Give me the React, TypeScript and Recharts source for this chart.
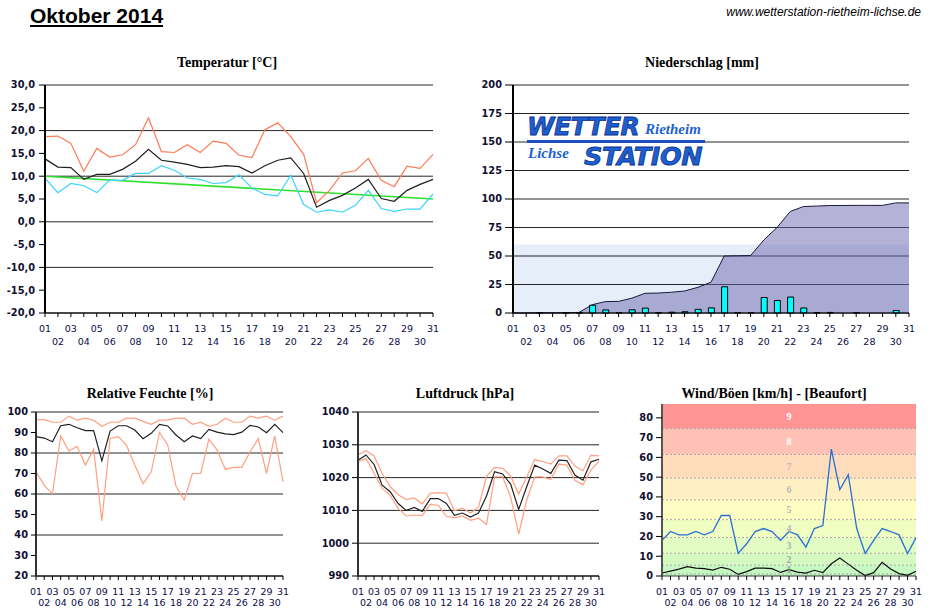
import React from 'react';
import {
  ComposedChart,
  LineChart,
  Line,
  Area,
  Bar,
  XAxis,
  YAxis,
  CartesianGrid,
  ReferenceArea,
  ReferenceLine,
} from 'recharts';

// ---------- data ----------
const days = [1, 2, 3, 4, 5, 6, 7, 8, 9, 10, 11, 12, 13, 14, 15, 16, 17, 18, 19, 20, 21, 22, 23, 24, 25, 26, 27, 28, 29, 30, 31];

const tempMax = [18.7, 18.8, 17.2, 11.1, 16.1, 14.2, 14.7, 16.9, 22.8, 15.4, 15.2, 16.9, 15.2, 17.7, 17.2, 14.6, 14.1, 20.2, 21.7, 18.7, 14.8, 4.2, 6.9, 10.7, 11.2, 13.9, 9.1, 7.7, 12.2, 11.7, 14.8];
const tempMean = [13.8, 12.0, 11.9, 9.3, 10.4, 10.4, 11.5, 13.3, 15.9, 13.5, 13.1, 12.6, 11.9, 12.0, 12.3, 12.1, 10.7, 12.3, 13.5, 14.0, 10.6, 3.2, 4.7, 5.8, 7.4, 9.3, 5.1, 4.5, 6.9, 8.2, 9.3];
const tempMin = [9.6, 6.4, 8.4, 7.9, 6.4, 9.1, 9.1, 10.6, 10.6, 12.3, 11.3, 9.6, 9.3, 8.4, 8.6, 10.3, 7.4, 6.0, 5.7, 10.2, 3.8, 2.1, 2.6, 2.1, 3.6, 6.9, 2.9, 2.3, 2.8, 2.8, 6.1];
const tempTrend: (number | null)[] = [10.0, null, null, null, null, null, null, null, null, null, null, null, null, null, null, null, null, null, null, null, null, null, null, null, null, null, null, null, null, null, 5.0];
const tempTicks = [-20, -15, -10, -5, 0, 5, 10, 15, 20, 25, 30];

const rainDaily = [0, 0, 0.2, 0, 0.1, 0.2, 6.8, 2.7, 0.2, 2.8, 4.3, 0.2, 0.7, 1.1, 3.2, 4.5, 23.0, 0.2, 0.2, 13.6, 11.0, 14.0, 4.4, 0.4, 0.5, 0, 0.1, 0, 0, 2.2, 0];
const rainSum = [0, 0, 0.2, 0.2, 0.3, 0.5, 7.3, 10.0, 10.2, 13.0, 17.3, 17.5, 18.2, 19.3, 22.5, 27.0, 50.0, 50.2, 50.4, 64.0, 75.0, 89.0, 93.4, 93.8, 94.3, 94.3, 94.4, 94.4, 94.4, 96.6, 96.6];
const rainTicks = [0, 25, 50, 75, 100, 125, 150, 175, 200];

const humMax = [96.3, 96.3, 95, 95, 98, 96, 97, 96, 93, 95, 95, 97, 97, 95.4, 94, 96, 96, 97, 97, 94, 95, 93, 94, 97, 95, 95, 98, 97, 98, 96, 98];
const humMean = [88, 87.3, 85.5, 93.3, 94, 92.3, 90.9, 90.9, 76.2, 90.7, 93.3, 93.3, 91.2, 87, 89.6, 94, 93.2, 88.8, 85.5, 88.3, 87, 91.5, 90.2, 89.3, 89, 90.2, 93.5, 92.7, 89.9, 94, 89.9];
const humMin = [70.8, 64.2, 60.1, 88.3, 81, 83.2, 74.1, 81.9, 46.9, 87.1, 88, 83.7, 74.1, 65, 70.8, 90, 83.9, 63.8, 57, 70, 70, 86.8, 81.4, 72.1, 73, 73, 80.6, 87, 70, 88.3, 66];
const humTicks = [20, 30, 40, 50, 60, 70, 80, 90, 100];

const presMax = [1026.9, 1028.2, 1026.6, 1021.3, 1017.2, 1014.8, 1013.3, 1013.8, 1012.0, 1015.2, 1015.4, 1015.2, 1009.9, 1010.7, 1009.2, 1011.0, 1020.4, 1023.1, 1022.8, 1020.5, 1015.0, 1020.2, 1025.5, 1024.9, 1024.1, 1026.6, 1026.6, 1023.5, 1022.1, 1026.8, 1026.6];
const presMean = [1025.3, 1026.9, 1024.0, 1017.7, 1015.7, 1012.1, 1010.0, 1010.9, 1009.7, 1013.6, 1013.6, 1012.1, 1008.5, 1009.2, 1008.0, 1009.2, 1014.4, 1021.8, 1021.1, 1018.0, 1010.3, 1017.2, 1023.8, 1022.6, 1021.3, 1025.3, 1025.2, 1020.8, 1019.2, 1024.8, 1025.6];
const presMin = [1024.9, 1025.8, 1021.3, 1016.7, 1014.6, 1010.6, 1008.3, 1008.6, 1008.4, 1011.9, 1011.5, 1008.2, 1007.7, 1008.3, 1007.0, 1007.6, 1005.7, 1020.2, 1020.2, 1014.1, 1002.8, 1013.1, 1020.2, 1020.2, 1019.4, 1024.1, 1023.8, 1019.2, 1017.8, 1022.3, 1025.1];
const presTicks = [990, 1000, 1010, 1020, 1030, 1040];

const windGust = [18, 22.5, 20.8, 20.8, 22.5, 20.8, 22.5, 30.6, 30.6, 11.4, 16.3, 22.5, 24, 22.5, 18, 22.5, 20.8, 14.6, 24, 25.5, 64.2, 43.7, 51.3, 24, 11.4, 18, 24, 22.5, 20.8, 11.4, 19.3];
const windMean = [1.5, 2.5, 3.5, 4.7, 4.0, 3.7, 3.0, 4.4, 3.4, 0.8, 2.2, 4.0, 4.0, 3.7, 1.8, 3.2, 2.0, 1.5, 2.9, 1.7, 6.2, 9.1, 6.0, 2.9, 0.2, 1.7, 6.9, 3.5, 1.2, 0.3, 2.4];
const windTicks = [0, 10, 20, 30, 40, 50, 60, 70, 80];

const beaufortLabels = ['1', '2', '3', '4', '5', '6', '7', '8', '9'];
const beaufortLow = [1, 5.5, 11.5, 19.5, 28.5, 38.5, 49.5, 61.5, 74.5];
const beaufortHigh = [5.5, 11.5, 19.5, 28.5, 38.5, 49.5, 61.5, 74.5, 87];
const beaufortFill = ['#c6f8c2', '#d4fac2', '#e2fcc2', '#f0fec2', '#fffec2', '#fff0c4', '#ffdcbc', '#ffc2b4', '#ff9494'];
const beaufortText = ['#9a9a9a', '#a8a8a8', '#b0b0b0', '#b8b8b8', '#b8b8b8', '#b8b8b8', '#c0c0c0', '#ffffff', '#ffffff'];

// ---------- tables ----------
const tempData = days.map((d, i) => ({ day: d, max: tempMax[i], mean: tempMean[i], min: tempMin[i], trend: tempTrend[i] }));
const rainData = days.map((d, i) => ({ day: d, daily: rainDaily[i], sum: rainSum[i] }));
const humData = days.map((d, i) => ({ day: d, max: humMax[i], mean: humMean[i], min: humMin[i] }));
const presData = days.map((d, i) => ({ day: d, max: presMax[i], mean: presMean[i], min: presMin[i] }));
const windData = days.map((d, i) => ({ day: d, gust: windGust[i], mean: windMean[i] }));

const LABEL_FONT = '"DejaVu Sans", Verdana, sans-serif';
const TITLE_FONT = '"Liberation Serif", "Times New Roman", serif';

const makeDayTick = (first: number, gap: number) => (props: any) => {
  const { x, y, payload } = props;
  const d = Number(payload.value);
  const odd = d % 2 === 1;
  return (
    <text
      x={x}
      y={y + (odd ? first : first + gap)}
      textAnchor="middle"
      fontSize={9.5}
      fontFamily={LABEL_FONT}
      fill="#0c0c48"
    >
      {String(d).padStart(2, '0')}
    </text>
  );
};

const yTickStyle = { fontSize: 9.8, fontFamily: LABEL_FONT, fontWeight: 'bold', fill: '#101030' } as any;

const Title = ({ cx, top, text }: { cx: number; top: number; text: string }) => (
  <div
    style={{
      position: 'absolute',
      left: cx - 160,
      top,
      width: 320,
      textAlign: 'center',
      fontFamily: TITLE_FONT,
      fontWeight: 'bold',
      fontSize: 14,
      lineHeight: '16px',
      color: '#000',
      whiteSpace: 'nowrap',
    }}
  >
    {text}
  </div>
);

const xAxisProps = (first: number, gap: number) => ({
  dataKey: 'day',
  type: 'number' as const,
  domain: [1, 31],
  ticks: days,
  interval: 0 as const,
  tickSize: 4,
  tickMargin: 0,
  tick: makeDayTick(first, gap),
  axisLine: { stroke: '#000', strokeWidth: 1 },
  tickLine: { stroke: '#000' },
  allowDecimals: false,
});

const logoBig = {
  position: 'absolute' as const,
  fontFamily: LABEL_FONT,
  fontWeight: 'bold' as const,
  fontStyle: 'italic' as const,
  color: '#1d5fcf',
  WebkitTextStroke: '0.8px #0b2f8a',
  whiteSpace: 'nowrap' as const,
};
const logoSmall = {
  position: 'absolute' as const,
  fontFamily: TITLE_FONT,
  fontWeight: 'bold' as const,
  fontStyle: 'italic' as const,
  color: '#1d5fcf',
  whiteSpace: 'nowrap' as const,
};

export default function App() {
  return (
    <div style={{ position: 'absolute', left: 0, top: 0, width: 930, height: 613, background: '#fff', overflow: 'hidden' }}>
      {/* header */}
      <div
        style={{
          position: 'absolute',
          left: 30,
          top: 4,
          fontFamily: '"Liberation Sans", Arial, sans-serif',
          fontWeight: 'bold',
          fontSize: 21,
          lineHeight: '24px',
          textDecoration: 'underline',
          color: '#000',
        }}
      >
        Oktober 2014
      </div>
      <div
        style={{
          position: 'absolute',
          right: 9,
          top: 5,
          fontFamily: '"Liberation Sans", Arial, sans-serif',
          fontStyle: 'italic',
          fontSize: 12,
          lineHeight: '14px',
          color: '#000',
        }}
      >
        www.wetterstation-rietheim-lichse.de
      </div>

      {/* Temperatur */}
      <Title cx={227} top={55} text="Temperatur [°C]" />
      <div style={{ position: 'absolute', left: 0, top: 70 }}>
        <LineChart width={440} height={280} data={tempData} margin={{ top: 15, right: 7, bottom: 0, left: 5 }}>
          <CartesianGrid vertical={false} stroke="#000" strokeOpacity={0.85} horizontalValues={tempTicks} />
          <XAxis {...xAxisProps(14.5, 13)} height={37} />
          <YAxis
            domain={[-20, 30]}
            ticks={tempTicks}
            width={40}
            tickSize={6}
            tickMargin={4}
            tick={yTickStyle}
            tickFormatter={(v: number) => v.toFixed(1).replace('.', ',')}
            axisLine={{ stroke: '#000', strokeWidth: 2 }}
            tickLine={{ stroke: '#000' }}
          />
          <Line dataKey="trend" stroke="#2ee02e" strokeWidth={1.6} dot={false} connectNulls isAnimationActive={false} />
          <Line dataKey="min" stroke="#38d4ff" strokeWidth={1.2} dot={false} isAnimationActive={false} />
          <Line dataKey="max" stroke="#ff7a55" strokeWidth={1.2} dot={false} isAnimationActive={false} />
          <Line dataKey="mean" stroke="#202020" strokeWidth={1.2} dot={false} isAnimationActive={false} />
        </LineChart>
      </div>

      {/* Niederschlag */}
      <Title cx={702} top={55} text="Niederschlag [mm]" />
      <div style={{ position: 'absolute', left: 460, top: 70 }}>
        <ComposedChart width={470} height={280} data={rainData} margin={{ top: 15, right: 21, bottom: 0, left: 5 }}>
          <ReferenceArea x1={1} x2={31} y1={0} y2={60} fill="#e6eef9" fillOpacity={1} stroke="none" zIndex={-60} />
          <CartesianGrid vertical={false} stroke="#000" strokeOpacity={0.85} horizontalValues={rainTicks} zIndex={-40} />
          <XAxis {...xAxisProps(14.5, 13)} height={37} />
          <YAxis
            domain={[0, 200]}
            ticks={rainTicks}
            width={48}
            tickSize={8}
            tickMargin={3}
            tick={yTickStyle}
            axisLine={{ stroke: '#000', strokeWidth: 2 }}
            tickLine={{ stroke: '#000' }}
          />
          <Area dataKey="sum" type="linear" stroke="#1a1a3a" strokeWidth={1} fill="#6a66b0" fillOpacity={0.5} isAnimationActive={false} />
          <Bar dataKey="daily" barSize={6} fill="#00ffff" stroke="#000" strokeWidth={1} isAnimationActive={false} />
        </ComposedChart>
      </div>
      {/* logo */}
      <div style={{ ...logoBig, left: 527, top: 114, fontSize: 25, lineHeight: '25px', letterSpacing: '-0.6px' }}>WETTER</div>
      <div style={{ ...logoSmall, left: 645, top: 122, fontSize: 15, lineHeight: '15px' }}>Rietheim</div>
      <div style={{ position: 'absolute', left: 527, top: 140, width: 178, height: 2.5, background: '#1a4fbf' }} />
      <div style={{ ...logoSmall, left: 528, top: 146, fontSize: 15, lineHeight: '15px' }}>Lichse</div>
      <div style={{ ...logoBig, left: 584, top: 143, fontSize: 25.5, lineHeight: '26px', letterSpacing: '-0.4px' }}>STATION</div>

      {/* Relative Feuchte */}
      <Title cx={150} top={386} text="Relative Feuchte [%]" />
      <div style={{ position: 'absolute', left: 0, top: 400 }}>
        <LineChart width={300} height={213} data={humData} margin={{ top: 12, right: 17, bottom: 0, left: 5 }}>
          <CartesianGrid vertical={false} stroke="#000" strokeOpacity={0.85} horizontalValues={humTicks} />
          <XAxis {...xAxisProps(14.5, 11)} height={37} />
          <YAxis
            domain={[20, 100]}
            ticks={humTicks}
            width={31}
            tickSize={5}
            tickMargin={3}
            tick={yTickStyle}
            axisLine={{ stroke: '#333', strokeWidth: 2 }}
            tickLine={{ stroke: '#000' }}
          />
          <Line dataKey="max" stroke="#ffa080" strokeWidth={1.2} dot={false} isAnimationActive={false} />
          <Line dataKey="min" stroke="#ffa080" strokeWidth={1.2} dot={false} isAnimationActive={false} />
          <Line dataKey="mean" stroke="#202020" strokeWidth={1.2} dot={false} isAnimationActive={false} />
        </LineChart>
      </div>

      {/* Luftdruck */}
      <Title cx={465} top={386} text="Luftdruck [hPa]" />
      <div style={{ position: 'absolute', left: 310, top: 400 }}>
        <LineChart width={300} height={213} data={presData} margin={{ top: 12, right: 11, bottom: 0, left: 5 }}>
          <CartesianGrid vertical={false} stroke="#000" strokeOpacity={0.85} horizontalValues={presTicks} />
          <XAxis {...xAxisProps(14.5, 11)} height={37} />
          <YAxis
            domain={[990, 1040]}
            ticks={presTicks}
            width={43}
            tickSize={6}
            tickMargin={3}
            tick={yTickStyle}
            axisLine={{ stroke: '#333', strokeWidth: 2 }}
            tickLine={{ stroke: '#000' }}
          />
          <Line dataKey="max" stroke="#ffa080" strokeWidth={1.2} dot={false} isAnimationActive={false} />
          <Line dataKey="min" stroke="#ffa080" strokeWidth={1.2} dot={false} isAnimationActive={false} />
          <Line dataKey="mean" stroke="#202020" strokeWidth={1.2} dot={false} isAnimationActive={false} />
        </LineChart>
      </div>

      {/* Wind */}
      <Title cx={774} top={386} text="Wind/Böen [km/h] - [Beaufort]" />
      <div style={{ position: 'absolute', left: 615, top: 390 }}>
        <LineChart width={310} height={223} data={windData} margin={{ top: 14, right: 9, bottom: 0, left: 5 }}>
          <ReferenceArea y1={0} y2={1} fill="#c2f6c0" fillOpacity={1} stroke="none" />
          {beaufortLabels.map((b, i) => (
            <ReferenceArea
              key={'ba' + b}
              y1={beaufortLow[i]}
              y2={beaufortHigh[i]}
              fill={beaufortFill[i]}
              fillOpacity={1}
              stroke="none"
              label={{ value: b, position: 'center', fill: beaufortText[i], fontSize: 10, fontFamily: TITLE_FONT, fontWeight: 'bold' }}
            />
          ))}
          {beaufortLow.map((v) => (
            <ReferenceLine key={'bl' + v} y={v} stroke="#a8a8a8" strokeDasharray="2 2" strokeWidth={1} />
          ))}
          <XAxis {...xAxisProps(14.5, 11)} height={37} axisLine={{ stroke: '#333', strokeWidth: 1 }} />
          <YAxis
            domain={[0, 87]}
            ticks={windTicks}
            width={42}
            tickSize={6}
            tickMargin={3}
            tick={yTickStyle}
            allowDataOverflow
            axisLine={{ stroke: '#555', strokeWidth: 2 }}
            tickLine={{ stroke: '#000' }}
          />
          <Line dataKey="gust" stroke="#2a6fd6" strokeWidth={1.3} dot={false} isAnimationActive={false} />
          <Line dataKey="mean" stroke="#101010" strokeWidth={1.2} dot={false} isAnimationActive={false} />
        </LineChart>
      </div>
    </div>
  );
}
